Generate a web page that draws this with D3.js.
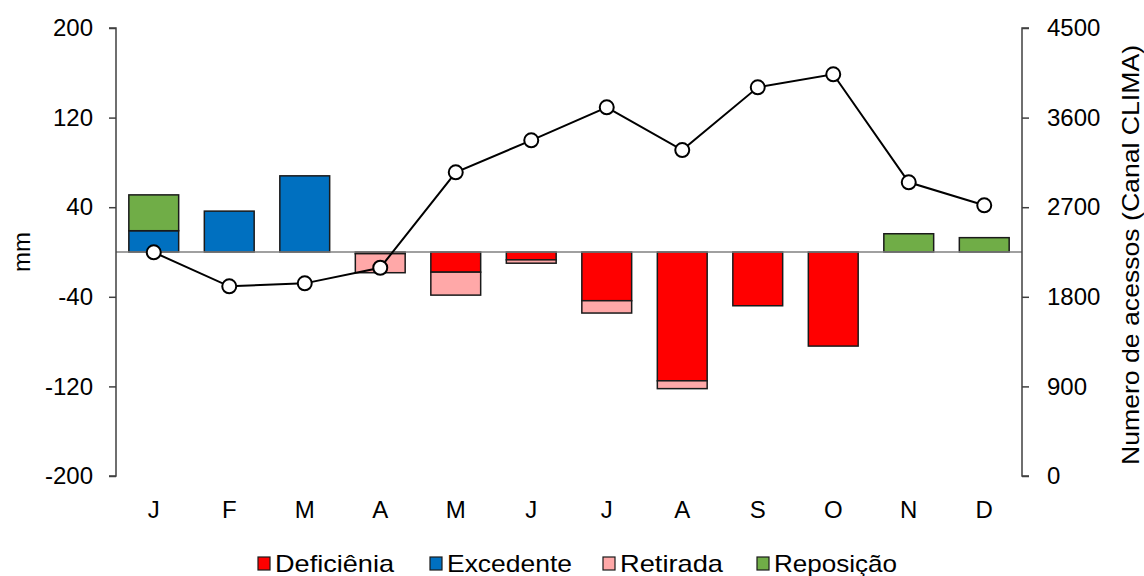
<!DOCTYPE html>
<html><head><meta charset="utf-8">
<script src="https://cdn.jsdelivr.net/npm/d3@7/dist/d3.min.js"></script>
<style>
body{margin:0;background:#fff;}
text{font-family:"Liberation Sans",Arial,sans-serif;fill:#000;}
</style></head>
<body><svg id="c" width="1144" height="576"></svg>
<script>
const months = ["J","F","M","A","M","J","J","A","S","O","N","D"];
const deficiencia = [0,0,0,-1.5,-18,-7,-43.5,-115,-48,-84,0,0];
const excedente = [19,36.5,68,0,0,0,0,0,0,0,0,0];
const retirada = [0,0,0,-17,-20.5,-3,-11,-7,0,0,0,0];
const reposicao = [32,0,0,0,0,0,0,0,0,0,16.3,12.8];
const acessos = [2247,1905,1935,2092,3050,3372,3703,3274,3904,4035,2950,2719];
const leftTicks = [-200,-120,-40,40,120,200];
const rightTicks = [0,900,1800,2700,3600,4500];
const legendNames = ["Deficiênia","Excedente","Retirada","Reposição"];
const colors = {def:"#FF0000", exc:"#0070C0", ret:"#FFA8A8", rep:"#70AD47"};

const svg = d3.select("#c");
const L = 116, R = 1022, T = 28, B = 476;
const FS = "24px";
const x = d3.scaleBand().domain(d3.range(12)).range([L,R]).paddingInner(0.34).paddingOuter(0.17);
const y = d3.scaleLinear().domain([-200,200]).range([B,T]);
const y2 = d3.scaleLinear().domain([0,4500]).range([B,T]);

// bars
const g = svg.append("g");
function stack(vals, base, color){
  g.selectAll(null).data(vals.map((v,i)=>({v,i,b:base?base[i]:0}))).enter()
   .filter(d=>d.v!==0)
   .append("rect")
   .attr("x",d=>x(d.i))
   .attr("width",x.bandwidth())
   .attr("y",d=>y(Math.max(d.b,d.b+d.v)))
   .attr("height",d=>Math.abs(y(d.b)-y(d.b+d.v)))
   .attr("fill",color).attr("stroke","#1a1a1a").attr("stroke-width",1.5);
}
stack(excedente,null,colors.exc);
stack(reposicao,excedente,colors.rep);
stack(deficiencia,null,colors.def);
stack(retirada,deficiencia,colors.ret);

// zero line
svg.append("line").attr("x1",L).attr("x2",R).attr("y1",y(0)).attr("y2",y(0))
  .attr("stroke","#808080").attr("stroke-width",1.5);

// left axis
const ax = d3.axisLeft(y).tickValues(leftTicks).tickSize(7).tickPadding(16).tickFormat(d=>String(d));
const ga = svg.append("g").attr("transform",`translate(${L},0)`).call(ax);
ga.select(".domain").attr("stroke","#404040").attr("stroke-width",1.5).attr("d",`M-7,${T}H0V${B}H-7`);
ga.selectAll(".tick line").attr("stroke","#404040").attr("stroke-width",1.5);
ga.selectAll("text").style("font-size",FS).attr("fill","#000");

// right axis
const ax2 = d3.axisRight(y2).tickValues(rightTicks).tickSize(7).tickPadding(18).tickFormat(d=>String(d));
const gb = svg.append("g").attr("transform",`translate(${R},0)`).call(ax2);
gb.select(".domain").attr("stroke","#404040").attr("stroke-width",1.5).attr("d",`M7,${T}H0V${B}H7`);
gb.selectAll(".tick line").attr("stroke","#404040").attr("stroke-width",1.5);
gb.selectAll("text").style("font-size",FS).attr("fill","#000");

// x labels
svg.selectAll(null).data(months).enter().append("text")
  .attr("x",(d,i)=>x(i)+x.bandwidth()/2).attr("y",518)
  .attr("text-anchor","middle").style("font-size",FS).text(d=>d);

// axis titles
svg.append("text").attr("transform",`translate(30,${y(0)}) rotate(-90)`)
  .attr("text-anchor","middle").style("font-size",FS).text("mm");
svg.append("text").attr("transform",`translate(1139,${(T+B)/2+3}) rotate(-90)`)
  .attr("text-anchor","middle").style("font-size",FS)
  .attr("textLength",420).attr("lengthAdjust","spacingAndGlyphs")
  .text("Numero de acessos (Canal CLIMA)");

// line
const cx = i => x(i)+x.bandwidth()/2;
svg.append("path").datum(acessos)
  .attr("d",d3.line().x((d,i)=>cx(i)).y(d=>y2(d)))
  .attr("fill","none").attr("stroke","#000").attr("stroke-width",2);
svg.selectAll(null).data(acessos).enter().append("circle")
  .attr("cx",(d,i)=>cx(i)).attr("cy",d=>y2(d)).attr("r",7)
  .attr("fill","#fff").attr("stroke","#000").attr("stroke-width",2);

// legend
const legX = [258,430,603,757];
const legW = [119,125,103,123];
const legC = [colors.def,colors.exc,colors.ret,colors.rep];
const lg = svg.append("g");
legendNames.forEach((n,i)=>{
  lg.append("rect").attr("x",legX[i]).attr("y",557).attr("width",12).attr("height",13)
    .attr("fill",legC[i]).attr("stroke","#1a1a1a").attr("stroke-width",1.2);
  lg.append("text").attr("x",legX[i]+17).attr("y",572).style("font-size",FS)
    .attr("textLength",legW[i]).attr("lengthAdjust","spacingAndGlyphs").text(n);
});
</script></body></html>
